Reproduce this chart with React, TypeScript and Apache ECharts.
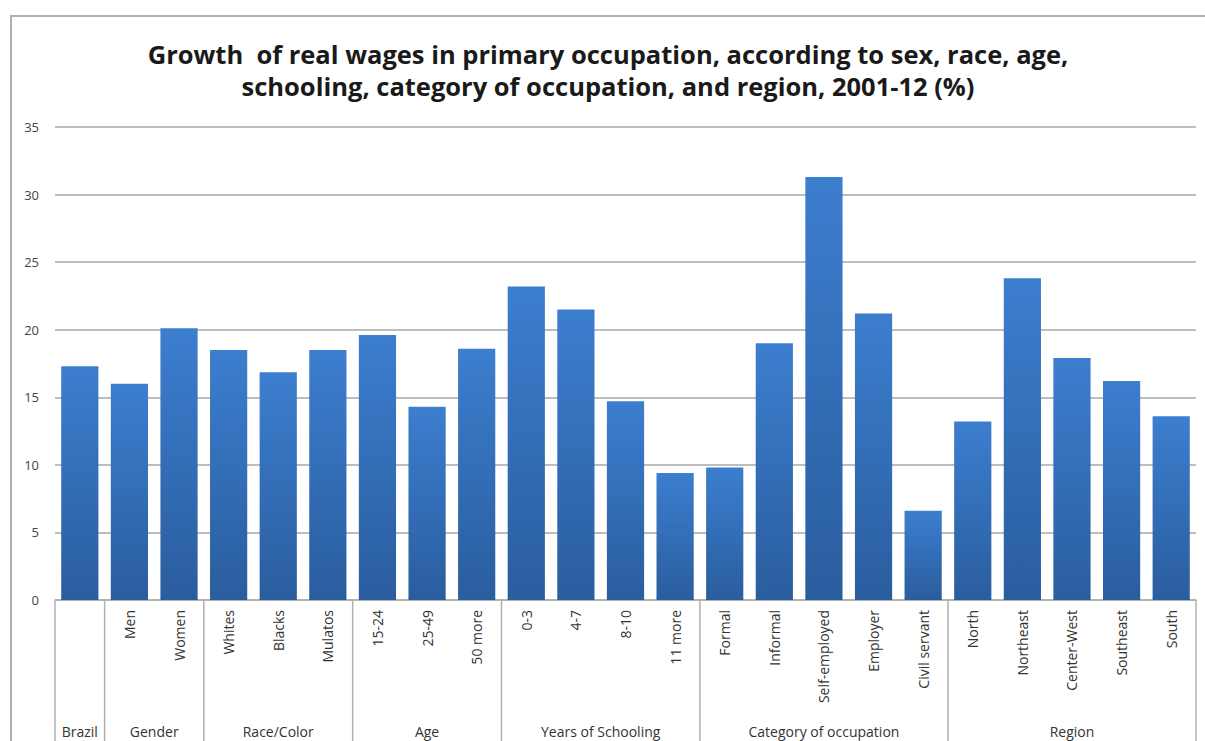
import React, { useEffect, useRef } from "react";
import * as echarts from "echarts";

const categoryLabels = [
  "", "Men", "Women", "Whites", "Blacks", "Mulatos", "15-24", "25-49", "50 more",
  "0-3", "4-7", "8-10", "11 more", "Formal", "Informal", "Self-employed", "Employer",
  "Civil servant", "North", "Northeast", "Center-West", "Southeast", "South",
];
const growthValues = [
  17.3, 16.0, 20.1, 18.5, 16.85, 18.5, 19.6, 14.3, 18.6,
  23.2, 21.5, 14.7, 9.4, 9.8, 19.0, 31.3, 21.2,
  6.6, 13.2, 23.8, 17.9, 16.2, 13.6,
];
const groupNames = ["Brazil", "Gender", "Race/Color", "Age", "Years of Schooling", "Category of occupation", "Region"];
const groupSizes = [1, 2, 3, 3, 4, 5, 5];
const yTicks = { min: 0, max: 35, interval: 5 };

const TITLE = "Growth  of real wages in primary occupation, according to sex, race, age,\nschooling, category of occupation, and region, 2001-12 (%)";
const FONT = "Open Sans";

export default function App() {
  const ref = useRef<HTMLDivElement>(null);
  useEffect(() => {
    document.body.style.margin = "0";
    if (!ref.current) return;
    const chart = echarts.init(ref.current, null, { renderer: "svg" });
    chart.setOption({
      animation: false,
      backgroundColor: "#ffffff",
      title: {
        text: TITLE,
        left: 603,
        textAlign: "center",
        top: 33,
        textStyle: { fontFamily: FONT, fontWeight: "bold", fontSize: 25.5, lineHeight: 32, color: "#1a1a1a" },
      },
      grid: { left: 55, right: 9, top: 127, bottom: 141 },
      xAxis: {
        type: "category",
        data: categoryLabels,
        axisLine: { show: true, lineStyle: { color: "#b0b0b0", width: 1.5 } },
        axisTick: { show: false },
        axisLabel: { rotate: 90, interval: 0, fontSize: 14, fontFamily: FONT, color: "#333", margin: 10 },
      },
      yAxis: {
        type: "value",
        min: yTicks.min,
        max: yTicks.max,
        interval: yTicks.interval,
        axisLine: { show: false },
        axisTick: { show: false },
        axisLabel: { fontSize: 13, fontFamily: FONT, color: "#444", margin: 16 },
        splitLine: { lineStyle: { color: "#bdbdbd", width: 2 } },
      },
      series: [
        {
          type: "bar",
          data: growthValues,
          barCategoryGap: "25%",
          itemStyle: {
            color: new echarts.graphic.LinearGradient(0, 0, 0, 1, [
              { offset: 0, color: "#3c7ecf" },
              { offset: 1, color: "#2a5d9e" },
            ]),
          },
        },
      ],
    });

    const px = (i: number) => chart.convertToPixel({ xAxisIndex: 0 }, i) as unknown as number;
    const y0 = chart.convertToPixel({ yAxisIndex: 0 }, 0) as unknown as number;
    const bw = px(1) - px(0);
    const graphics: any[] = [
      { type: "line", shape: { x1: 10, y1: 16, x2: 1205, y2: 16 }, style: { stroke: "#b0b0b0", lineWidth: 2 } },
      { type: "line", shape: { x1: 11, y1: 16, x2: 11, y2: 741 }, style: { stroke: "#b0b0b0", lineWidth: 2 } },
    ];
    let idx = 0;
    const addSep = (x: number) =>
      graphics.push({ type: "line", shape: { x1: x, y1: y0, x2: x, y2: 741 }, style: { stroke: "#b0b0b0", lineWidth: 1.5 } });
    addSep(px(0) - bw / 2);
    groupNames.forEach((name, g) => {
      const start = px(idx) - bw / 2;
      idx += groupSizes[g];
      const end = px(idx - 1) + bw / 2;
      addSep(end);
      graphics.push({
        type: "text",
        x: (start + end) / 2,
        y: 731,
        style: { text: name, fontSize: 14, fontFamily: FONT, fill: "#333", align: "center", verticalAlign: "middle" },
      });
    });
    chart.setOption({ graphic: graphics });
    return () => chart.dispose();
  }, []);
  return <div ref={ref} style={{ width: 1205, height: 741 }} />;
}
